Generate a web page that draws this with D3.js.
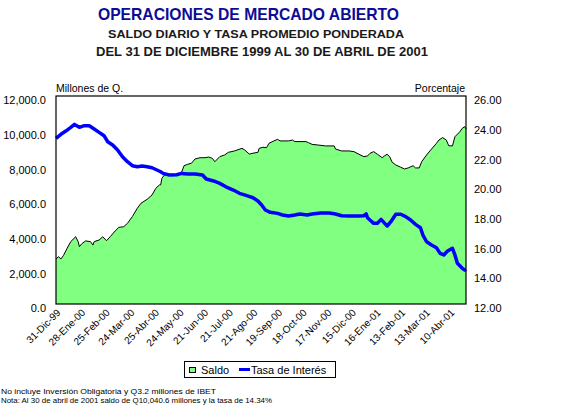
<!DOCTYPE html>
<html>
<head>
<meta charset="utf-8">
<script src="https://cdn.jsdelivr.net/npm/d3@7/dist/d3.min.js"></script>
<style>
  html, body { margin: 0; padding: 0; background: #fff; }
  svg { display: block; font-family: "Liberation Sans", Arial, sans-serif; }
</style>
</head>
<body>
<svg id="chart" width="562" height="407"></svg>
<script>
// ---- DATA ----
// x position = business-day index (0 = 31-Dic-99, 333 = 30-Abr-01)
const xLabels = ["31-Dic-99","28-Ene-00","25-Feb-00","24-Mar-00","25-Abr-00","24-May-00","21-Jun-00","21-Jul-00","21-Ago-00","19-Sep-00","18-Oct-00","17-Nov-00","15-Dic-00","16-Ene-01","13-Feb-01","13-Mar-01","10-Abr-01"];
const xLabelIdx = [0,20,40,60,80,100,120,140,160,180,200,220,240,260,280,300,320];
const lastIdx = 333;

// Saldo (millones de Q.)
const saldoIdx = [0,2,4,6,9,12,16,18,19,21,24,28,30,31,35,38,41,44,48,51,55,58,62,66,69,74,78,81,84,
  85,86,88,91,99,102,104,107,110,113,117,121,124,127,129,133,137,140,145,151,153,157,160,164,165,168,
  171,173,177,180,182,189,192,194,203,205,208,213,219,226,227,232,238,242,246,250,253,
  255,258,261,265,267,269,271,273,276,280,283,286,290,292,295,297,301,305,309,311,314,317,319,322,324,328,330,332,333];
const saldo = [2600,2730,2600,2790,3210,3600,3880,3600,3310,3480,3640,3600,3400,3600,3690,3880,3650,3880,4210,4420,4460,4650,5040,5520,5810,6040,6290,6670,6870,
  6870,7250,7440,7480,7480,7600,7980,8060,8120,8370,8440,8440,8480,8400,8210,8500,8600,8750,8830,8980,8900,8650,8700,8750,8980,9040,
  9020,9270,9410,9500,9410,9410,9460,9370,9370,9310,9210,9170,9120,9120,8940,8830,8830,8790,8640,8500,8540,
  8690,8790,8640,8440,8560,8640,8500,8180,8020,7890,7790,7850,7980,7850,7850,8210,8600,8940,9270,9460,9600,9460,9130,9120,9650,9940,10140,10230,10100];

// Tasa de Interés (porcentaje)
const tasaIdx = [0,4,8,12,15,19,23,27,31,35,39,42,46,50,54,58,62,66,70,74,78,82,85,
  87,92,98,102,107,113,119,122,128,133,138,144,149,155,160,164,167,169,
  170,174,180,184,189,194,198,204,208,215,222,227,232,238,246,250,252,253,
  255,258,261,264,267,269,272,276,280,284,288,292,296,298,301,305,309,312,315,318,322,324,326,330,332,333];
const tasa = [23.15,23.42,23.64,23.89,24.09,23.89,24.00,24.00,23.78,23.55,23.33,22.92,22.70,22.36,21.91,21.58,21.31,21.24,21.29,21.24,21.17,21.02,20.90,
  20.79,20.68,20.70,20.79,20.75,20.75,20.68,20.41,20.28,20.12,19.89,19.67,19.45,19.29,19.15,18.93,18.66,18.44,
  18.33,18.17,18.10,17.99,17.92,17.99,18.06,17.99,18.06,18.12,18.12,18.06,17.94,17.92,17.92,17.94,18.06,17.81,
  17.65,17.43,17.43,17.70,17.43,17.25,17.54,18.04,18.04,17.88,17.65,17.36,17.13,16.64,16.19,15.97,15.79,15.41,15.30,15.57,15.75,15.30,14.74,14.40,14.29,14.34];

const leftTicks = [0,2000,4000,6000,8000,10000,12000];
const rightTicks = [12,14,16,18,20,22,24,26];

// ---- CHART ----
const svg = d3.select("#chart");
const L = 56, R = 466, T = 96, B = 304;

const x = d3.scaleLinear().domain([0, lastIdx]).range([L, R]);
const yL = d3.scaleLinear().domain([0, 12000]).range([B, T]);
const yR = d3.scaleLinear().domain([12, 26]).range([B, T]);

// Titles
svg.append("text").attr("x", 98).attr("y", 20)
  .attr("font-size", 17).attr("font-weight", "bold").attr("fill", "#0c0c96")
  .attr("textLength", 301).attr("lengthAdjust", "spacingAndGlyphs")
  .text("OPERACIONES DE MERCADO ABIERTO");
svg.append("text").attr("x", 108).attr("y", 37.5)
  .attr("font-size", 11.5).attr("font-weight", "bold").attr("fill", "#1a1a1a")
  .attr("textLength", 296).attr("lengthAdjust", "spacingAndGlyphs")
  .text("SALDO DIARIO Y TASA PROMEDIO PONDERADA");
svg.append("text").attr("x", 96).attr("y", 56)
  .attr("font-size", 12).attr("font-weight", "bold").attr("fill", "#1a1a1a")
  .attr("textLength", 332).attr("lengthAdjust", "spacingAndGlyphs")
  .text("DEL 31 DE DICIEMBRE 1999 AL 30 DE ABRIL DE 2001");

// Axis titles
svg.append("text").attr("x", 56).attr("y", 92).attr("font-size", 10.5).attr("fill", "#000")
  .text("Millones de Q.");
svg.append("text").attr("x", 465).attr("y", 92).attr("font-size", 10.5).attr("fill", "#000")
  .attr("text-anchor", "end").text("Porcentaje");

// Area (Saldo)
const saldoData = saldoIdx.map((d, i) => [d, saldo[i]]);
const tasaData = tasaIdx.map((d, i) => [d, tasa[i]]);

svg.append("path").datum(saldoData)
  .attr("d", d3.area().x(d => x(d[0])).y0(yL(0)).y1(d => yL(d[1])))
  .attr("fill", "#80ff80");
svg.append("path").datum(saldoData)
  .attr("d", d3.line().x(d => x(d[0])).y(d => yL(d[1])))
  .attr("fill", "none").attr("stroke", "#000").attr("stroke-width", 1);

// Line (Tasa)
svg.append("path").datum(tasaData)
  .attr("d", d3.line().x(d => x(d[0])).y(d => yR(d[1])))
  .attr("fill", "none").attr("stroke", "#0000ff").attr("stroke-width", 3.5)
  .attr("stroke-linejoin", "round");

// Frame
svg.append("rect").attr("x", L).attr("y", T).attr("width", R - L).attr("height", B - T)
  .attr("fill", "none").attr("stroke", "#000").attr("stroke-width", 1.2);

// Left axis
const gL = svg.append("g").attr("transform", `translate(${L},0)`)
  .call(d3.axisLeft(yL).tickValues(leftTicks).tickFormat(d3.format(",.1f")).tickSize(0).tickPadding(10));
gL.select(".domain").remove();
gL.selectAll("text").attr("font-size", 11).attr("fill", "#000").attr("dy", "0.7em")
  .attr("font-family", "'Liberation Sans', Arial, sans-serif");

// Right axis
const gR = svg.append("g").attr("transform", `translate(${R},0)`)
  .call(d3.axisRight(yR).tickValues(rightTicks).tickFormat(d3.format(".2f")).tickSize(0).tickPadding(8));
gR.select(".domain").remove();
gR.selectAll("text").attr("font-size", 11).attr("fill", "#000").attr("dy", "0.7em")
  .attr("font-family", "'Liberation Sans', Arial, sans-serif");

// X axis labels
const gX = svg.append("g");
gX.selectAll("text").data(xLabelIdx).join("text")
  .attr("transform", d => `translate(${x(d) + 1},309) rotate(-45)`)
  .attr("dy", "0.6em")
  .attr("text-anchor", "end")
  .attr("font-size", 10).attr("fill", "#000")
  .text((d, i) => xLabels[i]);

// Legend
const lg = svg.append("g");
lg.append("rect").attr("x", 184.5).attr("y", 361.5).attr("width", 151).attr("height", 16)
  .attr("fill", "#fff").attr("stroke", "#000").attr("stroke-width", 1);
lg.append("rect").attr("x", 189.5).attr("y", 367.5).attr("width", 6).attr("height", 5)
  .attr("fill", "#80ff80").attr("stroke", "#000").attr("stroke-width", 1);
lg.append("text").attr("x", 201).attr("y", 374).attr("font-size", 11).attr("fill", "#000").text("Saldo");
lg.append("line").attr("x1", 239).attr("x2", 250).attr("y1", 369.5).attr("y2", 369.5)
  .attr("stroke", "#0000ff").attr("stroke-width", 3);
lg.append("text").attr("x", 251).attr("y", 374).attr("font-size", 11).attr("fill", "#000").text("Tasa de Interés");

// Footnotes
svg.append("text").attr("x", 1).attr("y", 393.5).attr("font-size", 7.5).attr("fill", "#000")
  .attr("textLength", 215).attr("lengthAdjust", "spacingAndGlyphs")
  .text("No incluye Inversión Obligatoria y Q3.2 millones de IBET");
svg.append("text").attr("x", 1).attr("y", 402.5).attr("font-size", 7.5).attr("fill", "#000")
  .attr("textLength", 271).attr("lengthAdjust", "spacingAndGlyphs")
  .text("Nota: Al 30 de abril de 2001 saldo de Q10,040.6 millones y la tasa de 14.34%");
</script>
</body>
</html>
